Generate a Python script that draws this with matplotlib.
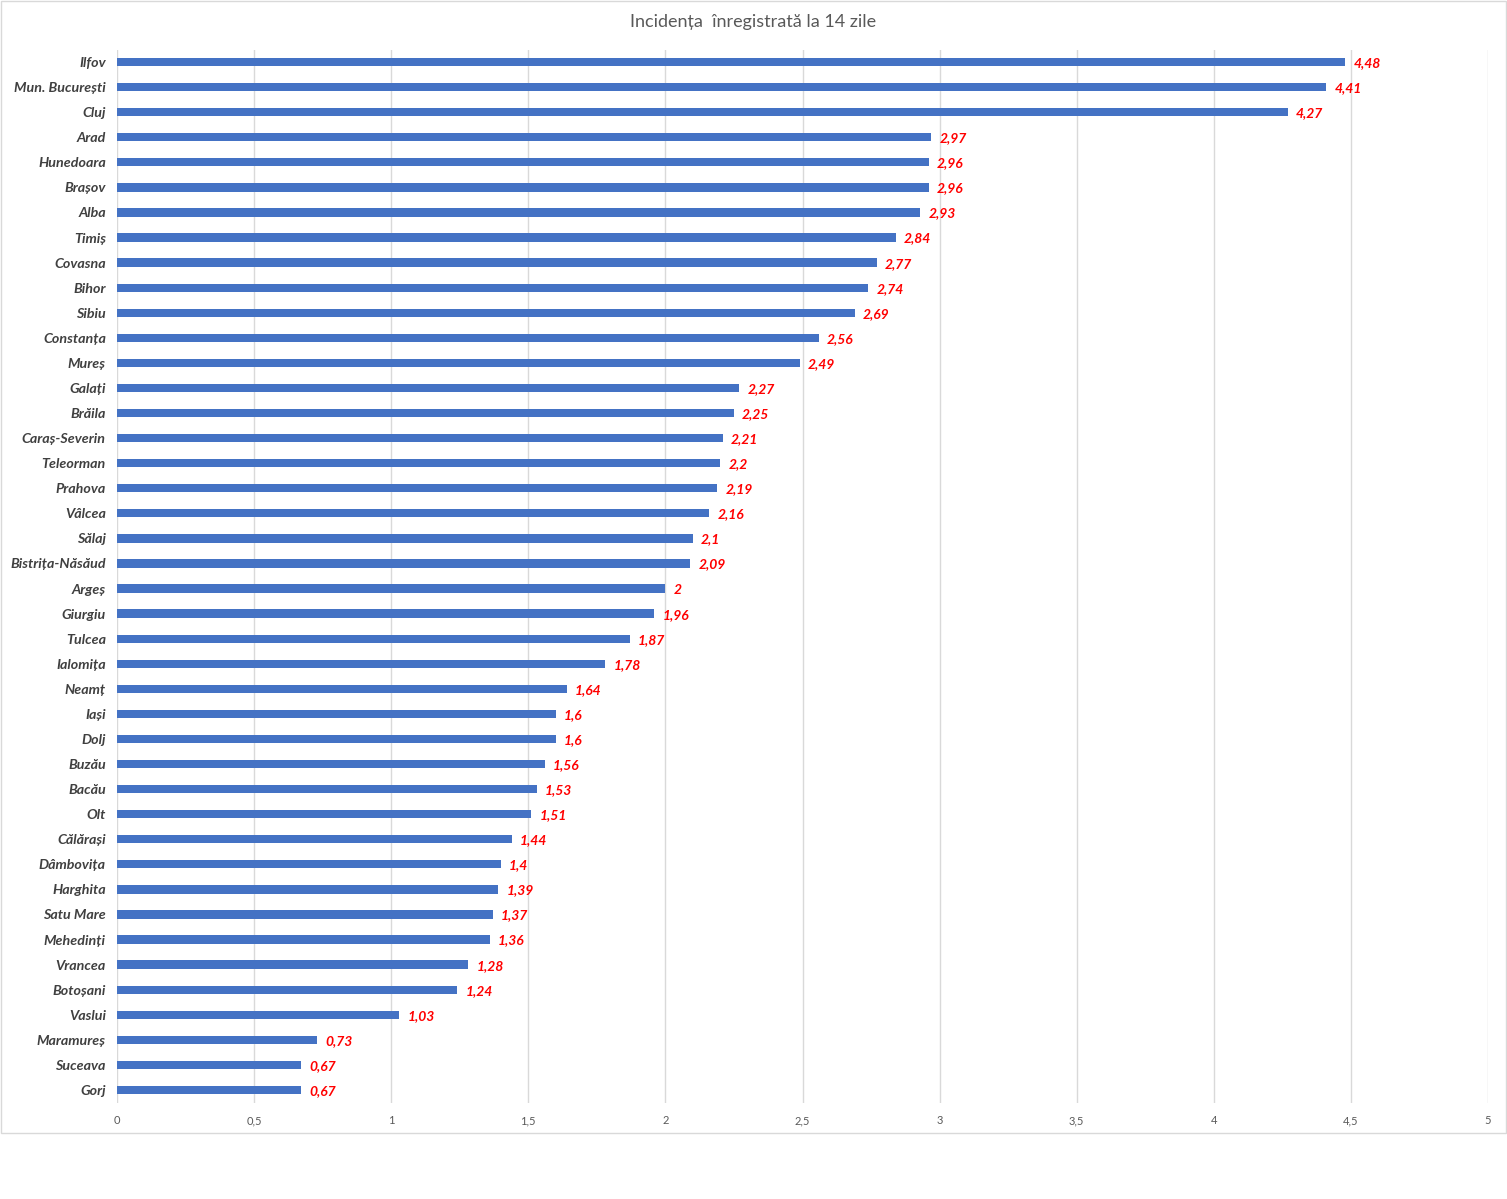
import matplotlib
matplotlib.use("Agg")
import matplotlib.pyplot as plt
from matplotlib.patches import Rectangle
from matplotlib.ticker import FuncFormatter, MultipleLocator

judete = ["Ilfov", "Mun. București", "Cluj", "Arad", "Hunedoara", "Brașov", "Alba",
          "Timiș", "Covasna", "Bihor", "Sibiu", "Constanța", "Mureș", "Galați",
          "Brăila", "Caraș-Severin", "Teleorman", "Prahova", "Vâlcea", "Sălaj",
          "Bistrița-Năsăud", "Argeș", "Giurgiu", "Tulcea", "Ialomița", "Neamț",
          "Iași", "Dolj", "Buzău", "Bacău", "Olt", "Călărași", "Dâmbovița",
          "Harghita", "Satu Mare", "Mehedinți", "Vrancea", "Botoșani", "Vaslui",
          "Maramureș", "Suceava", "Gorj"]
incidenta = [4.48, 4.41, 4.27, 2.97, 2.96, 2.96, 2.93, 2.84, 2.77, 2.74, 2.69,
             2.56, 2.49, 2.27, 2.25, 2.21, 2.2, 2.19, 2.16, 2.1, 2.09, 2, 1.96,
             1.87, 1.78, 1.64, 1.6, 1.6, 1.56, 1.53, 1.51, 1.44, 1.4, 1.39, 1.37,
             1.36, 1.28, 1.24, 1.03, 0.73, 0.67, 0.67]
titlu = "Incidența  înregistrată la 14 zile"

plt.rcParams['font.family'] = ['Lato', 'DejaVu Sans']

fig = plt.figure(figsize=(15.07, 11.99), dpi=100)
ax = fig.add_axes([117 / 1507, 1 - 1102.5 / 1199, (1488 - 117) / 1507, (1102.5 - 49.5) / 1199])

y = list(range(len(judete)))
ax.barh(y, incidenta, height=0.33, color="#4472C4", zorder=3)
ax.set_ylim(len(judete) - 0.5, -0.5)
ax.set_xlim(0, 5)

def fmt(v):
    s = f"{v:g}"
    return s.replace(".", ",")

for yi, v in zip(y, incidenta):
    ax.text(v + 0.03, yi + 0.04, fmt(v), va="center", ha="left", color="red",
            fontsize=10, fontweight="bold", fontstyle="italic")

ax.set_yticks(y)
ax.set_yticklabels(judete, fontsize=10.3, fontweight="bold", fontstyle="italic", color="#404040")
ax.tick_params(axis="y", length=0, pad=8)
ax.xaxis.set_major_locator(MultipleLocator(0.5))
ax.xaxis.set_major_formatter(FuncFormatter(lambda v, p: fmt(round(v, 1))))
ax.tick_params(axis="x", length=0, pad=9, labelsize=8, labelcolor="#595959")
ax.grid(axis="x", color="#d9d9d9", linewidth=1, zorder=0)
for s in ax.spines.values():
    s.set_visible(False)

fig.text(0.5, 1 - 22 / 1199, titlu, ha="center", va="center", fontsize=13, color="#595959")
fig.patches.append(Rectangle((0.5 / 1507, 1 - 1133 / 1199), 1505.5 / 1507, 1133 / 1199 - 0.5 / 1199,
                             transform=fig.transFigure, fill=False, edgecolor="#d9d9d9", linewidth=1))

fig.savefig("out.png", dpi=100)
